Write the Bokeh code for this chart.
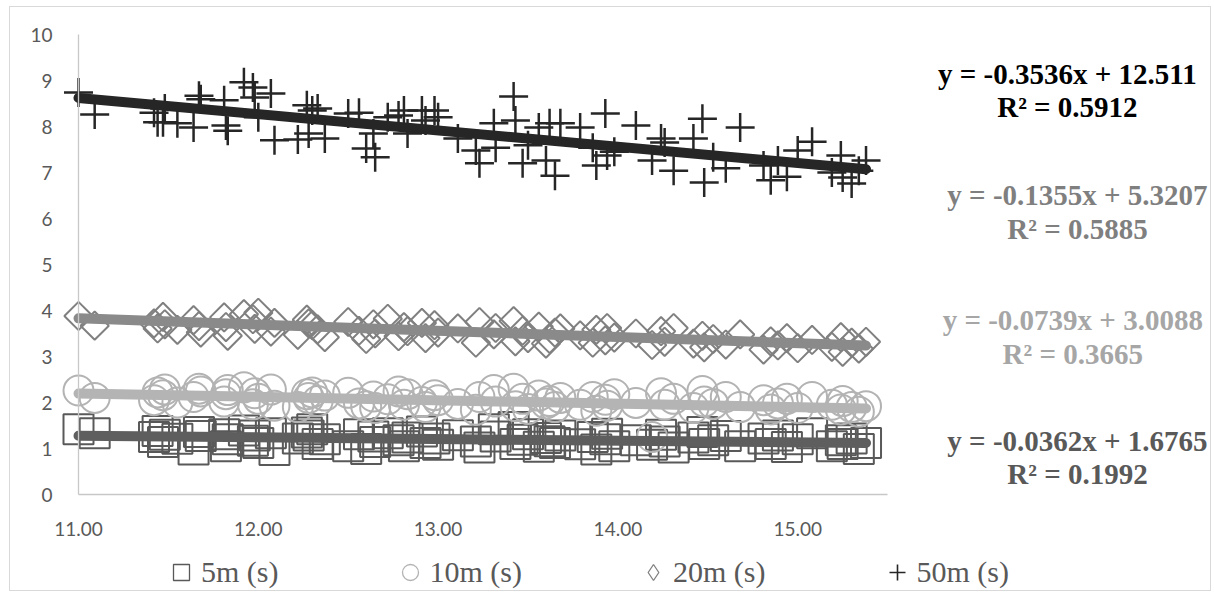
import numpy as np
from bokeh.plotting import figure
from bokeh.models import Range1d, Label, Legend, LegendItem, NumeralTickFormatter, FixedTicker, ColumnDataSource
from bokeh.embed import file_html
from bokeh.resources import INLINE

# ---- data ----
x_time = [11.00, 11.09, 11.42, 11.44, 11.47, 11.48, 11.55, 11.64, 11.67, 11.68,
          11.81, 11.82, 11.83, 11.92, 11.97, 11.98, 12.00, 12.07, 12.09, 12.22,
          12.27, 12.30, 12.33, 12.28, 12.37, 12.50, 12.56, 12.60, 12.64, 12.65,
          12.72, 12.78, 12.81, 12.83, 12.91, 12.93, 12.98, 13.00, 13.11, 13.21,
          13.23, 13.31, 13.32, 13.42, 13.43, 13.47, 13.50, 13.56, 13.60, 13.65,
          13.68, 13.62, 13.79, 13.86, 13.88, 13.93, 13.94, 13.98, 14.10, 14.19,
          14.24, 14.26, 14.31, 14.42, 14.47, 14.48, 14.53, 14.60, 14.68, 14.81,
          14.85, 14.89, 14.94, 15.00, 15.08, 15.19, 15.24, 15.25, 15.30, 15.34, 15.38]

y_5m = [1.42, 1.33, 1.25, 1.38, 1.14, 1.30, 1.21, 0.98, 1.36, 1.27,
        1.31, 1.05, 1.20, 1.39, 1.17, 1.28, 1.12, 1.33, 0.97, 1.22,
        1.35, 1.42, 1.10, 1.28, 1.20, 1.05, 1.31, 0.99, 1.26, 1.14,
        1.33, 1.18, 1.05, 1.24, 1.37, 1.12, 1.22, 1.08, 1.29, 1.15,
        1.02, 1.42, 1.26, 1.47, 1.10, 1.19, 1.31, 1.04, 1.23, 1.12,
        1.28, 1.16, 1.09, 1.25, 0.98, 1.20, 1.32, 1.05, 1.18, 1.08,
        1.30, 1.15, 1.02, 1.24, 1.36, 1.10, 1.18, 1.27, 1.05, 1.22,
        1.10, 1.28, 1.03, 1.20, 1.33, 1.05, 1.18, 1.10, 1.22, 0.99, 1.12]

y_10m = [2.26, 2.10, 2.05, 2.22, 2.16, 2.28, 2.00, 2.12, 2.30, 2.24,
         2.02, 2.18, 2.27, 2.33, 1.96, 2.20, 2.08, 2.28, 1.93, 1.90,
         2.18, 2.22, 2.03, 2.10, 2.15, 2.21, 1.98, 1.92, 2.13, 1.88,
         2.07, 2.24, 1.95, 2.18, 2.01, 1.90, 2.16, 2.05, 1.97, 1.84,
         2.12, 2.27, 2.02, 2.30, 1.92, 2.08, 1.86, 2.15, 1.98, 1.90,
         2.10, 2.03, 1.95, 2.12, 1.82, 2.06, 1.93, 2.18, 1.99, 1.25,
         2.20, 1.95, 2.08, 1.88, 2.25, 2.02, 1.97, 2.12, 1.90, 2.05,
         1.85, 1.98, 2.08, 1.88, 2.12, 1.95, 1.85, 2.03, 1.90, 1.80, 1.92]

y_20m = [3.88, 3.67, 3.72, 3.61, 3.86, 3.70, 3.58, 3.79, 3.66, 3.52,
         3.85, 3.64, 3.45, 3.92, 3.81, 3.60, 3.95, 3.54, 3.73, 3.47,
         3.80, 3.68, 3.59, 3.72, 3.42, 3.75, 3.56, 3.38, 3.70, 3.50,
         3.82, 3.44, 3.64, 3.55, 3.73, 3.40, 3.68, 3.52, 3.61, 3.30,
         3.75, 3.48, 3.62, 3.77, 3.33, 3.56, 3.40, 3.65, 3.28, 3.52,
         3.61, 3.38, 3.46, 3.30, 3.58, 3.35, 3.62, 3.41, 3.50, 3.25,
         3.55, 3.32, 3.62, 3.28, 3.45, 3.20, 3.38, 3.26, 3.48, 3.15,
         3.33, 3.24, 3.40, 3.18, 3.36, 3.21, 3.42, 3.10, 3.30, 3.17, 3.32]

y_50m = [8.74, 8.26, 8.30, 8.09, 8.09, 8.39, 8.07, 7.98, 8.67, 8.59,
         8.57, 8.02, 7.91, 8.96, 8.85, 8.63, 8.20, 8.72, 7.70, 7.72,
         8.46, 8.35, 8.39, 7.85, 7.74, 8.28, 8.30, 7.52, 7.85, 7.33,
         8.20, 8.24, 8.35, 7.85, 8.35, 8.13, 8.35, 8.20, 7.74, 7.48,
         7.20, 8.07, 7.54, 8.65, 8.13, 7.20, 7.59, 7.98, 7.26, 6.93,
         8.07, 8.07, 7.98, 7.54, 7.15, 8.28, 7.37, 7.45, 8.02, 7.26,
         7.74, 7.65, 7.04, 7.74, 8.17, 6.78, 7.33, 7.09, 7.98, 7.15,
         6.83, 7.26, 6.91, 7.48, 7.67, 7.00, 7.37, 6.89, 6.76, 7.04, 7.26]

series_names = ["5m (s)", "10m (s)", "20m (s)", "50m (s)"]
slopes = [-0.0362, -0.0739, -0.1355, -0.3536]
intercepts = [1.6765, 3.0088, 5.3207, 12.511]
r2_values = ["0.1992", "0.3665", "0.5885", "0.5912"]
eq_texts = ["y = -0.0362x + 1.6765", "y = -0.0739x + 3.0088",
            "y = -0.1355x + 5.3207", "y = -0.3536x + 12.511"]
x_ticks = [11, 12, 13, 14, 15]
y_ticks = [0, 1, 2, 3, 4, 5, 6, 7, 8, 9, 10]

# ---- styles ----
marker_colors = ["#595959", "#b3b3b3", "#808080", "#262626"]
line_colors = ["#5e5e5e", "#b4b4b4", "#8a8a8a", "#262626"]
eq_colors = ["#595959", "#a6a6a6", "#7f7f7f", "#000000"]
eq_pos = [(16.556, 0.80), (16.53, 3.43), (16.556, 6.14), (16.50, 8.78)]

# frame spans the whole canvas; axes are pinned with fixed_location and bounds
PX_X = 179.8   # pixels per x unit
PX_Y = 46.0    # pixels per y unit
W, H = 1202, 585
AX_LEFT, AX_TOP = 68, 27   # axis origin offset inside the canvas
x_start = 11 - AX_LEFT / PX_X
x_end = 11 + (W - AX_LEFT) / PX_X
y_end = 10 + AX_TOP / PX_Y
y_start = 10 - (H - AX_TOP) / PX_Y

p = figure(width=W, height=H, output_backend="svg", toolbar_location=None,
           x_range=Range1d(x_start, x_end), y_range=Range1d(y_start, y_end),
           min_border_left=0, min_border_right=0, min_border_top=0, min_border_bottom=0,
           margin=(6, 0, 0, 9))
p.styles = {"border": "1px solid #d9d9d9"}
p.outline_line_color = None
p.xgrid.grid_line_color = None
p.ygrid.grid_line_color = None
p.background_fill_color = "white"
p.border_fill_color = "white"

for ax in (p.xaxis[0], p.yaxis[0]):
    ax.axis_line_color = "#c8c8c8"
    ax.axis_line_width = 1.3
    ax.major_tick_line_color = None
    ax.minor_tick_line_color = None
    ax.major_label_text_font = "Lato"
    ax.major_label_text_font_size = "19px"
    ax.major_label_text_color = "#595959"
p.yaxis.ticker = FixedTicker(ticks=y_ticks)
p.xaxis.ticker = FixedTicker(ticks=x_ticks)
p.xaxis.formatter = NumeralTickFormatter(format="0.00")
p.yaxis.bounds = (0, 10)
p.xaxis.bounds = (11, 15.5)
p.xaxis.fixed_location = 0
p.yaxis.fixed_location = 11
p.yaxis.major_label_standoff = 20
p.xaxis.major_label_standoff = 21

src = ColumnDataSource(dict(x=x_time, y5=y_5m, y10=y_10m, y20=y_20m, y50=y_50m))

p.scatter("x", "y5", source=src, marker="square", size=30, fill_alpha=0,
          line_color=marker_colors[0], line_width=2)
p.scatter("x", "y10", source=src, marker="circle", size=30, fill_alpha=0,
          line_color=marker_colors[1], line_width=2)
p.scatter("x", "y20", source=src, marker="square", angle=np.pi / 4, size=20, fill_alpha=0,
          line_color=marker_colors[2], line_width=2)
p.scatter("x", "y50", source=src, marker="cross", size=29,
          line_color=marker_colors[3], line_width=2.5)

# hidden twins of each series, only used for thin upright legend symbols
ycols = ["y5", "y10", "y20", "y50"]
leg_markers = ["square", "circle", "diamond", "cross"]
leg_widths = [1.3, 1.3, 1.3, 1.6]
leg_renderers = [
    p.scatter("x", ycols[i], source=src, marker=leg_markers[i], size=16, fill_alpha=0,
              line_color=marker_colors[i], line_width=leg_widths[i], visible=False)
    for i in range(4)
]

xmin, xmax = min(x_time), max(x_time)
for i in range(4):
    xs = [xmin, xmax]
    ys = [slopes[i] * xv + intercepts[i] for xv in xs]
    p.line(xs, ys, line_color=line_colors[i], line_width=10, line_cap="round")

for i in range(4):
    p.add_layout(Label(x=eq_pos[i][0], y=eq_pos[i][1],
                       text=eq_texts[i] + "\nR² = " + r2_values[i],
                       text_align="center", text_baseline="middle",
                       text_font="Liberation Serif", text_font_style="bold",
                       text_font_size="29px", text_color=eq_colors[i], text_line_height=1.05))

legend = Legend(items=[LegendItem(label=series_names[i], renderers=[leg_renderers[i]]) for i in range(4)],
                orientation="horizontal", location=(151, 0), click_policy="none",
                glyph_width=40, glyph_height=40, label_standoff=0, spacing=111,
                padding=0, margin=0, border_line_color=None, background_fill_alpha=0,
                label_text_font="Liberation Serif", label_text_font_size="30px",
                label_text_color="#595959", label_height=40)
p.add_layout(legend)

open("out.html", "w").write(file_html(p, INLINE))
